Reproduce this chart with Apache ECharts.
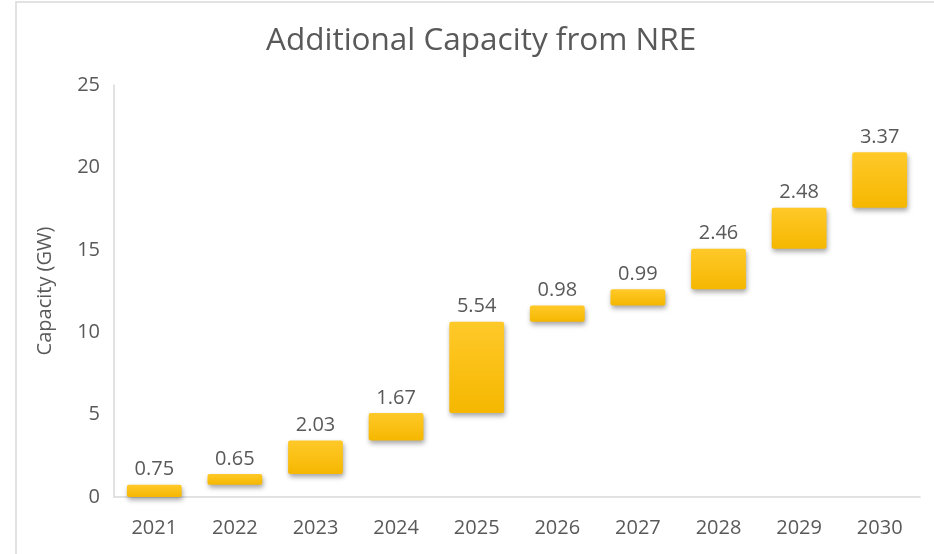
<!DOCTYPE html>
<html>
<head>
<meta charset="utf-8">
<script src="https://cdn.jsdelivr.net/npm/echarts@6/dist/echarts.min.js"></script>
<style>
  html, body { margin: 0; padding: 0; background: #ffffff; }
  #chart { width: 934px; height: 554px; }
</style>
</head>
<body>
<div id="chart"></div>
<script>
// Yearly additions of new & renewable energy capacity (GW)
const years = ['2021', '2022', '2023', '2024', '2025', '2026', '2027', '2028', '2029', '2030'];
const additions = [0.75, 0.65, 2.03, 1.67, 5.54, 0.98, 0.99, 2.46, 2.48, 3.37];
const yTicks = [0, 5, 10, 15, 20, 25];

// Waterfall: each bar starts where the running total of earlier years ends
const bases = [];
let running = 0;
for (const v of additions) {
  bases.push(+running.toFixed(2));
  running += v;
}

const textColor = '#595959';
const font = '"Open Sans", "Noto Sans", sans-serif';

const chart = echarts.init(document.getElementById('chart'), null, { renderer: 'canvas' });
chart.setOption({
  backgroundColor: '#ffffff',
  animation: false,
  graphic: [{
    type: 'rect',
    shape: { x: 16, y: 2, width: 940, height: 580 },
    style: { fill: 'none', stroke: '#d9d9d9', lineWidth: 1.5 },
    silent: true
  }],
  title: {
    text: 'Additional Capacity from NRE',
    left: 261,
    top: 20,
    textStyle: { color: textColor, fontFamily: font, fontSize: 31.5, fontWeight: 'normal' }
  },
  grid: { left: 114, right: 14, top: 85, bottom: 57, containLabel: false },
  xAxis: {
    type: 'category',
    data: years,
    axisLine: { show: true, lineStyle: { color: '#d9d9d9', width: 1.5 } },
    axisTick: { show: false },
    axisLabel: { color: textColor, fontFamily: font, fontSize: 20, margin: 21 }
  },
  yAxis: {
    type: 'value',
    min: yTicks[0],
    max: yTicks[yTicks.length - 1],
    interval: yTicks[1] - yTicks[0],
    name: 'Capacity (GW)',
    nameLocation: 'middle',
    nameGap: 59,
    nameRotate: 90,
    nameTextStyle: { color: textColor, fontFamily: font, fontSize: 20 },
    axisLine: { show: true, lineStyle: { color: '#d9d9d9', width: 1.5 } },
    axisTick: { show: false },
    splitLine: { show: false },
    axisLabel: { color: textColor, fontFamily: font, fontSize: 20, margin: 14 }
  },
  series: [
    {
      name: 'base',
      type: 'bar',
      stack: 'total',
      data: bases,
      barWidth: '68%',
      itemStyle: { color: 'transparent' },
      silent: true
    },
    {
      name: 'Addition',
      type: 'bar',
      stack: 'total',
      data: additions,
      barWidth: '68%',
      itemStyle: {
        color: new echarts.graphic.LinearGradient(0, 0, 0, 1, [
          { offset: 0, color: '#ffc929' },
          { offset: 1, color: '#f5b700' }
        ]),
        borderRadius: 2,
        shadowColor: 'rgba(0,0,0,0.35)',
        shadowBlur: 5,
        shadowOffsetX: 1,
        shadowOffsetY: 3
      },
      label: {
        show: true,
        position: 'top',
        distance: 5,
        color: textColor,
        fontFamily: font,
        fontSize: 20,
        formatter: p => p.value.toFixed(2)
      }
    }
  ]
});
</script>
</body>
</html>
